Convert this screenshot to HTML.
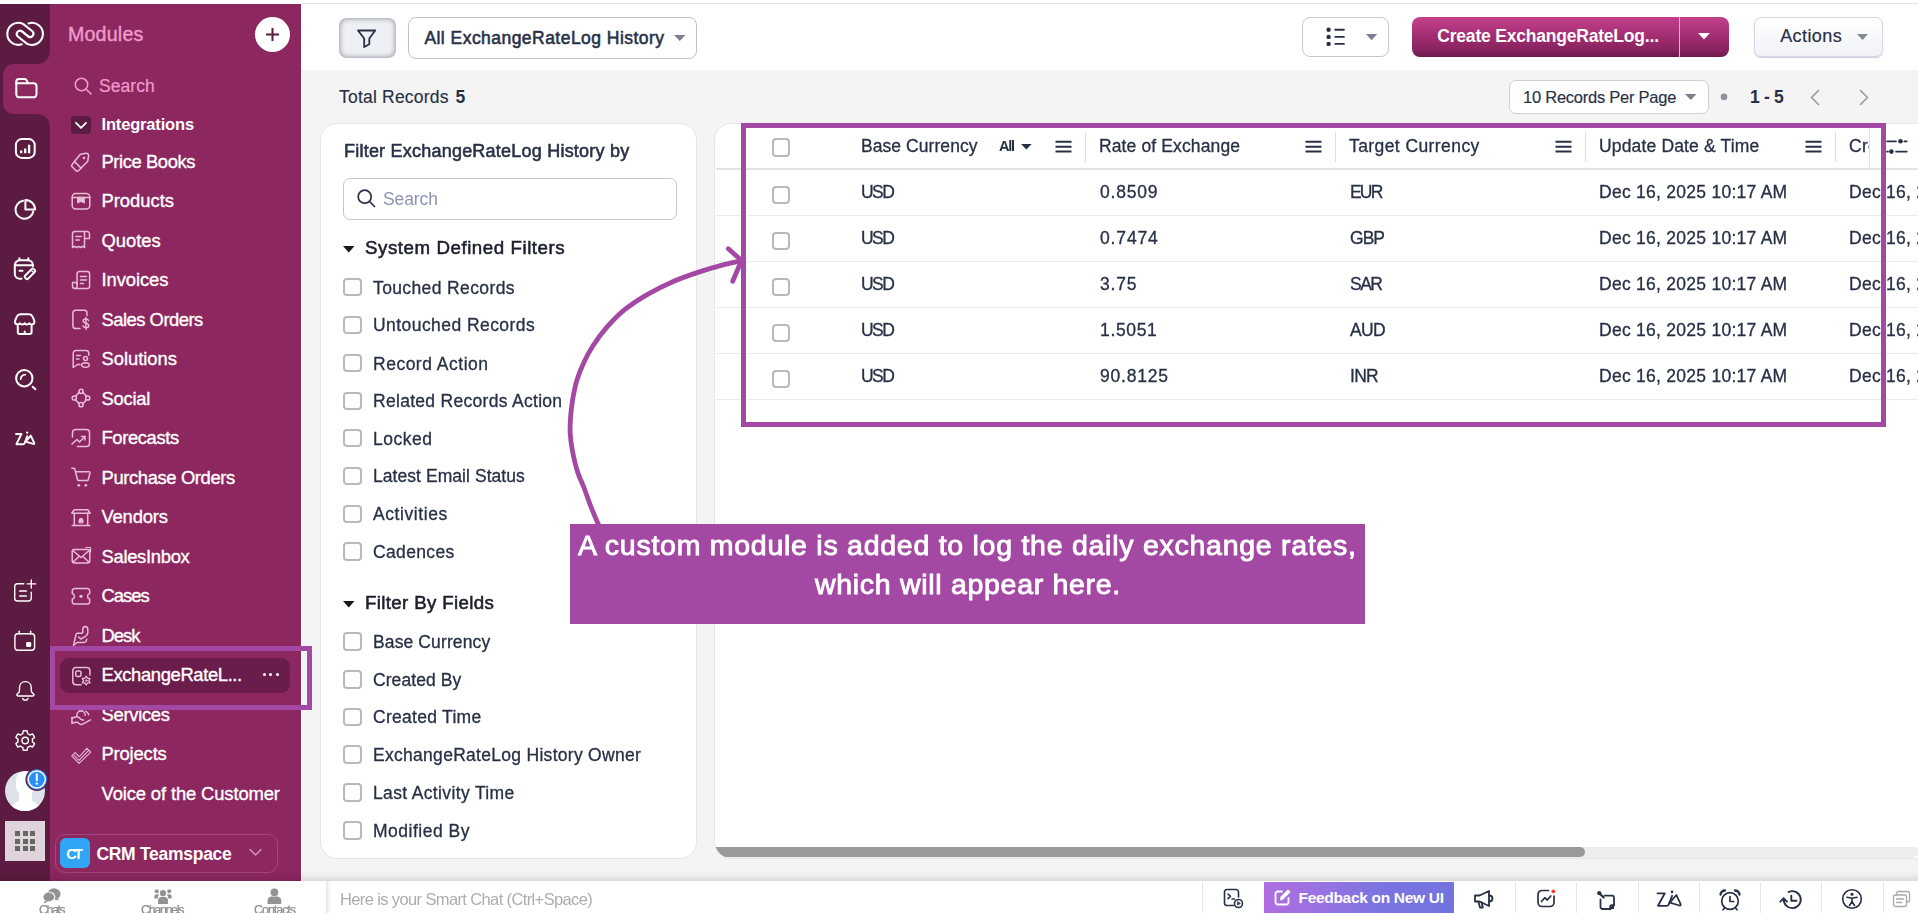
<!DOCTYPE html>
<html><head><meta charset="utf-8"><title>ExchangeRateLog History - Zoho CRM</title>
<style>
html,body{margin:0;padding:0}
html{width:1918px;height:913px;overflow:hidden}
body{width:1918px;height:913px;overflow:hidden;position:relative;background:#fff;font-family:"Liberation Sans",sans-serif;}
.b{position:absolute;box-sizing:border-box}
.t{position:absolute;white-space:nowrap;line-height:1;}
.g{will-change:transform}
svg{position:absolute;overflow:visible}
.cb{position:absolute;box-sizing:border-box;width:18.6px;height:18.6px;border:2px solid #b9b9b9;border-radius:4px;background:#fff}
#r{position:absolute;left:0;top:0;width:1918px;height:913px;overflow:hidden;contain:strict}
</style></head><body><div id="r">
<div class="b" style="left:301px;top:3px;width:1617px;height:1px;background:#e2e4e2"></div>
<div class="b" style="left:302px;top:70px;width:1616px;height:811px;background:#f4f4f4"></div>
<div class="b" style="left:0px;top:4px;width:301px;height:877px;background:#8c2760"></div>
<div class="b" style="left:0px;top:4px;width:50px;height:60px;background:#5c1b40;border-bottom-right-radius:13px"></div>
<div class="b" style="left:0px;top:64px;width:16px;height:50px;background:#5c1b40"></div>
<div class="b" style="left:0px;top:114px;width:50px;height:767px;background:#5c1b40;border-top-right-radius:13px"></div>
<div class="b" style="left:3px;top:64px;width:47px;height:50px;background:#8c2760;border-radius:11px 0 0 11px"></div>
<!--RAILICONS-->
<svg style="left:0;top:0" width="50" height="881" viewBox="0 0 50 881" fill="none" stroke="#fff" stroke-linecap="round" stroke-linejoin="round"><g stroke-width="2.1"><path d="M21.7 44.3A11 11 0 1 1 23.4 24.1L32.4 31.2a3.4 3.4 0 0 1-4.2 5.3L21.9 31.5"/><path d="M28.5 23.4A11 11 0 1 1 26.8 43.6L17.8 36.5a3.4 3.4 0 0 1 4.2-5.3L28.3 36.2"/></g><g stroke-width="2"><path d="M16.3 81.7a2.6 2.6 0 0 1 2.6-2.6h5.7c1 0 1.7.5 2.1 1.4l1.2 2.7h5.6a3 3 0 0 1 3 3v8.1a3 3 0 0 1-3 3H19.3a3 3 0 0 1-3-3z"/><path d="M16.3 83.2H28"/></g><g stroke-width="2"><rect x="15.9" y="139.1" width="18.8" height="18.8" rx="6"/><path d="M21.2 153.2v-2.6M25.2 153.2v-4.7M29.1 153.2v-8.4" stroke-width="2.3" stroke-linecap="butt"/></g><g stroke-width="2"><path d="M23 200.8A9 9 0 1 0 33.3 211.5"/><path d="M25.4 199.9v9.7h9.7a9.7 9.7 0 0 0-9.7-9.7z"/></g><g stroke-width="2"><path d="M21.5 278.7h-1.7a5 5 0 0 1-5-5v-8.4a5 5 0 0 1 5-5h8.1a5 5 0 0 1 5 5v1"/><path d="M19.4 258.2v2M28.3 258.2v2M14.8 265.3h18.1M19.5 270.7h3"/><path d="M26.2 278.8l-1.2-1.2a1.3 1.3 0 0 1 0-1.8l6.9-6.9a1.3 1.3 0 0 1 1.8 0l1.2 1.2a1.3 1.3 0 0 1 0 1.8l-6.9 6.9a1.3 1.3 0 0 1-1.8 0z"/><path d="M31.5 270.5l1.8 1.8" stroke-width="1.3"/></g><g stroke-width="2"><path d="M17.8 326v5.9a2 2 0 0 0 2 2h9.8a2 2 0 0 0 2-2V326"/><path d="M24.7 333.8v-2.4"/><path d="M15 321.8c0-1 .3-1.7.7-2.6l1.3-2.8c.6-1.4 1.6-2.2 3.1-2.2h9.2c1.5 0 2.5.8 3.1 2.2l1.3 2.8c.4.9.7 1.6.7 2.6 0 1.5-1.2 2.7-2.7 2.7-1 0-1.8-.5-2.3-1.3-.5.8-1.4 1.3-2.4 1.3s-1.9-.5-2.3-1.3c-.5.8-1.4 1.3-2.4 1.3s-1.9-.5-2.4-1.3c-.5.8-1.3 1.3-2.3 1.3-1.5 0-2.6-1.2-2.6-2.7z"/></g><g stroke-width="2"><circle cx="24.3" cy="378.2" r="8.2"/><path d="M32.7 386.7l2.7 2.6"/><path d="M20.7 379a5 5 0 0 1 4.6-4.4" stroke-width="1.8"/></g><g stroke-width="1.9"><path d="M16 434h5.4l-5 10.2h6.7c.8 0 1.2-.4 1.5-1.1l2.7-6.9"/><path d="M27.2 432.5v.2" stroke-width="2.2"/><path d="M25.6 441.6l5.2-6 3.4 7.3c.3.7-.2 1.2-.9 1l-7.7-2.3z"/></g><g stroke-width="1.4"><path d="M23.8 583.7h-6.3a2.8 2.8 0 0 0-2.8 2.8v11.7a2.8 2.8 0 0 0 2.8 2.8h11a2.8 2.8 0 0 0 2.8-2.8v-6.1"/><path d="M19.7 591h6.6M19.7 596h6.6" stroke-width="1.5"/><path d="M31.3 579.9v8.1M27.2 583.9h8.5"/></g><g stroke-width="1.4"><rect x="14.9" y="633.7" width="19.7" height="16.6" rx="3"/><path d="M19.2 631.2v2.6M30.7 631.2v2.6" stroke-width="1.6"/><rect x="26.1" y="642.1" width="5.1" height="4.8" rx="1.2" fill="#fff" stroke="none"/></g><g stroke-width="1.4"><path d="M25.4 681.6c-3.6 0-5.9 2.7-5.9 6.1v2.8c0 1.3-.7 2.2-1.7 3l-.5.4c-1 .9-.5 2.1.8 2.1h14.6c1.3 0 1.8-1.2.8-2.1l-.5-.4c-1-.8-1.7-1.7-1.7-3v-2.8c0-3.4-2.3-6.1-5.9-6.1z"/><path d="M22.7 698.4a2.8 2.8 0 0 0 5.3 0"/></g><g stroke-width="1.4"><path d="M23.16 730.91A9.8 9.8 0 0 1 27.24 730.91L27.58 733.6A7.3 7.3 0 0 1 29.99 734.99L32.48 733.94A9.8 9.8 0 0 1 34.52 737.47L32.37 739.11A7.3 7.3 0 0 1 32.37 741.89L34.52 743.53A9.8 9.8 0 0 1 32.48 747.06L29.99 746.01A7.3 7.3 0 0 1 27.58 747.4L27.24 750.09A9.8 9.8 0 0 1 23.16 750.09L22.82 747.4A7.3 7.3 0 0 1 20.41 746.01L17.92 747.06A9.8 9.8 0 0 1 15.88 743.53L18.03 741.89A7.3 7.3 0 0 1 18.03 739.11L15.88 737.47A9.8 9.8 0 0 1 17.92 733.94L20.41 734.99A7.3 7.3 0 0 1 22.82 733.6Z"/><circle cx="25.2" cy="740.5" r="3.2"/></g></svg>
<div class="b" style="left:5px;top:770.5px;width:40.4px;height:40.4px;border-radius:50%;background:#dde1ea;overflow:hidden"><div class="b" style="left:10.5px;top:0px;width:19px;height:25px;border-radius:9.5px;background:#fff"></div><div class="b" style="left:14px;top:18px;width:13px;height:14px;background:#fff"></div><div class="b" style="left:3px;top:29.5px;width:35px;height:26px;border-radius:17px 17px 0 0;background:#fff"></div></div>
<svg style="left:24px;top:767px" width="26" height="26" viewBox="0 0 26 26"><circle cx="12.8" cy="12.5" r="11.4" fill="#5c1b40"/><circle cx="12.8" cy="12.5" r="10.2" fill="#2b90f5"/><circle cx="12.8" cy="12.5" r="8.5" fill="none" stroke="#fff" stroke-width="1.4"/><path d="M12.8 7.2v6" stroke="#fff" stroke-width="2" stroke-linecap="round"/><circle cx="12.8" cy="16.6" r="1.2" fill="#fff"/></svg>
<div class="b" style="left:5px;top:821px;width:40px;height:40px;background:#e0d4dc"></div><div class="b" style="left:15px;top:831px;width:5px;height:5px;background:#676767"></div><div class="b" style="left:22.6px;top:831px;width:5px;height:5px;background:#676767"></div><div class="b" style="left:30.2px;top:831px;width:5px;height:5px;background:#676767"></div><div class="b" style="left:15px;top:838.6px;width:5px;height:5px;background:#676767"></div><div class="b" style="left:22.6px;top:838.6px;width:5px;height:5px;background:#676767"></div><div class="b" style="left:30.2px;top:838.6px;width:5px;height:5px;background:#676767"></div><div class="b" style="left:15px;top:846.2px;width:5px;height:5px;background:#676767"></div><div class="b" style="left:22.6px;top:846.2px;width:5px;height:5px;background:#676767"></div><div class="b" style="left:30.2px;top:846.2px;width:5px;height:5px;background:#676767"></div>
<div class="t" style="left:68px;top:25px;font-size:19.6px;letter-spacing:0.202px;color:#ef9acb;-webkit-text-stroke:0.4px #ef9acb;">Modules</div>
<div class="b" style="left:255px;top:17px;width:35px;height:35px;background:#fff;border-radius:50%"></div>
<svg style="left:265px;top:27px" width="15" height="15" viewBox="0 0 15 15"><path d="M7.5 1v13M1 7.5h13" stroke="#5c1b40" stroke-width="2" fill="none"/></svg>
<svg style="left:74px;top:77px" width="18" height="18" viewBox="0 0 18 18"><circle cx="7.5" cy="7.5" r="6.2" stroke="#ef9acb" stroke-width="1.6" fill="none"/><path d="M12 12l5 5" stroke="#ef9acb" stroke-width="1.6" stroke-linecap="round"/></svg>
<div class="t" style="left:99px;top:78px;font-size:17.5px;letter-spacing:0.052px;color:#ef9acb;-webkit-text-stroke:0.2px #ef9acb;">Search</div>
<div class="b" style="left:71px;top:116px;width:20px;height:18px;background:#5c1b40;border-radius:4px"></div>
<svg style="left:75px;top:120.5px" width="12" height="9" viewBox="0 0 12 9"><path d="M1 1.8l5 5 5-5" stroke="#fff" stroke-width="1.8" fill="none" stroke-linecap="round" stroke-linejoin="round"/></svg>
<div class="t" style="left:101.5px;top:116px;font-size:16.5px;font-weight:700;letter-spacing:-0.166px;color:#fff;">Integrations</div>
<div class="b" style="left:60px;top:658px;width:230px;height:35px;background:#6a1d4a;border-radius:9px"></div>
<div class="t" style="left:101.5px;top:153px;font-size:18.4px;letter-spacing:-0.416px;color:#fff;-webkit-text-stroke:0.35px #fff;">Price Books</div>
<svg style="left:71px;top:151.5px" width="20" height="20" viewBox="0 0 20 20" fill="none" stroke="#e9bcd6" stroke-width="1.5" stroke-linecap="round" stroke-linejoin="round"><path d="M9.3 2.2l5.7-1c1.5-.2 2.8 1.1 2.6 2.6l-1 5.7-9 9c-.8.8-2 .8-2.8 0L1.3 15c-.8-.8-.8-2 0-2.8z"/><path d="M3.8 9.9l6.4 6.4"/><circle cx="13" cy="6" r="1.3" fill="#e9bcd6" stroke="none"/></svg>
<div class="t" style="left:101.5px;top:192px;font-size:18.4px;letter-spacing:-0.015px;color:#fff;-webkit-text-stroke:0.35px #fff;">Products</div>
<svg style="left:71px;top:190.99px" width="20" height="20" viewBox="0 0 20 20" fill="none" stroke="#e9bcd6" stroke-width="1.5" stroke-linecap="round" stroke-linejoin="round"><rect x="1.2" y="2.5" width="17.6" height="15.5" rx="3.5"/><path d="M1.2 6.5h17.6"/><path d="M6.8 6.5v5.2l3.2-1.6 3.2 1.6V6.5z" fill="#e9bcd6"/></svg>
<div class="t" style="left:101.5px;top:232px;font-size:18.4px;letter-spacing:-0.044px;color:#fff;-webkit-text-stroke:0.35px #fff;">Quotes</div>
<svg style="left:71px;top:230.48000000000002px" width="20" height="20" viewBox="0 0 20 20" fill="none" stroke="#e9bcd6" stroke-width="1.5" stroke-linecap="round" stroke-linejoin="round"><path d="M1.5 17.5V3.8A2.3 2.3 0 0 1 3.8 1.5h9.7v16l-2-1.2-2 1.2-2-1.2-2 1.2-2-1.2z"/><path d="M13.5 1.5h2.7a2.3 2.3 0 0 1 2.3 2.3v4.7h-5"/><path d="M4.8 6.5h5.5M4.8 10h3.5"/></svg>
<div class="t" style="left:101.5px;top:271px;font-size:18.4px;letter-spacing:-0.07px;color:#fff;-webkit-text-stroke:0.35px #fff;">Invoices</div>
<svg style="left:71px;top:269.97px" width="20" height="20" viewBox="0 0 20 20" fill="none" stroke="#e9bcd6" stroke-width="1.5" stroke-linecap="round" stroke-linejoin="round"><path d="M6 14.5V3.8A2.3 2.3 0 0 1 8.3 1.5h8a2.3 2.3 0 0 1 2.3 2.3v12.4a2.3 2.3 0 0 1-2.3 2.3H4"/><path d="M4 18.5a2.5 2.5 0 0 1-2.5-2.5v-3.5H6V16a2 2 0 0 1-2 2.5z"/><path d="M9.5 6.5h6M9.5 10h6M9.5 13.5h3"/></svg>
<div class="t" style="left:101.5px;top:311px;font-size:18.4px;letter-spacing:-0.506px;color:#fff;-webkit-text-stroke:0.35px #fff;">Sales Orders</div>
<svg style="left:71px;top:309.46000000000004px" width="20" height="20" viewBox="0 0 20 20" fill="none" stroke="#e9bcd6" stroke-width="1.5" stroke-linecap="round" stroke-linejoin="round"><path d="M9 19.6H4.8a2.9 2.9 0 0 1-2.9-2.9V4.1A2.9 2.9 0 0 1 4.8 1.2h8.3A2.9 2.9 0 0 1 16 4.1v2.4"/><path d="M17.6 11.6c-.3-1-1.3-1.6-2.7-1.6-1.6 0-2.7.8-2.7 2.1 0 2.9 5.6 1.3 5.6 4.3 0 1.3-1.2 2.2-2.9 2.2-1.5 0-2.6-.7-2.9-1.8M14.9 8.5v12" stroke-width="1.4"/></svg>
<div class="t" style="left:101.5px;top:350px;font-size:18.4px;letter-spacing:-0.025px;color:#fff;-webkit-text-stroke:0.35px #fff;">Solutions</div>
<svg style="left:71px;top:348.95000000000005px" width="20" height="20" viewBox="0 0 20 20" fill="none" stroke="#e9bcd6" stroke-width="1.5" stroke-linecap="round" stroke-linejoin="round"><path d="M9 15.5H6.5l-4.3 3V4.3A2.8 2.8 0 0 1 5 1.5h10a2.8 2.8 0 0 1 2.8 2.8v2"/><path d="M5.5 6.5h4M5.5 10h2.5"/><circle cx="14.5" cy="9.5" r="2"/><ellipse cx="14.5" cy="16" rx="3.8" ry="2.3"/></svg>
<div class="t" style="left:101.5px;top:390px;font-size:18.4px;letter-spacing:-0.264px;color:#fff;-webkit-text-stroke:0.35px #fff;">Social</div>
<svg style="left:71px;top:388.44px" width="20" height="20" viewBox="0 0 20 20" fill="none" stroke="#e9bcd6" stroke-width="1.5" stroke-linecap="round" stroke-linejoin="round"><circle cx="10" cy="3.3" r="2.1"/><circle cx="10" cy="16.7" r="2.1"/><circle cx="3.3" cy="10" r="2.1"/><circle cx="16.7" cy="10" r="2.1"/><path d="M8.2 4.4L4.4 8.2M11.8 4.4l3.8 3.8M4.4 11.8l3.8 3.8M15.6 11.8l-3.8 3.8"/></svg>
<div class="t" style="left:101.5px;top:429px;font-size:18.4px;letter-spacing:-0.384px;color:#fff;-webkit-text-stroke:0.35px #fff;">Forecasts</div>
<svg style="left:71px;top:427.93px" width="20" height="20" viewBox="0 0 20 20" fill="none" stroke="#e9bcd6" stroke-width="1.5" stroke-linecap="round" stroke-linejoin="round"><path d="M1.5 9V4.5a3 3 0 0 1 3-3h11a3 3 0 0 1 3 3v11a3 3 0 0 1-3 3h-9"/><path d="M1 16l5-4.5 2.5 2.5 5.5-5.5"/><path d="M10.5 8.5H14V12"/></svg>
<div class="t" style="left:101.5px;top:469px;font-size:18.4px;letter-spacing:-0.378px;color:#fff;-webkit-text-stroke:0.35px #fff;">Purchase Orders</div>
<svg style="left:71px;top:467.42px" width="20" height="20" viewBox="0 0 20 20" fill="none" stroke="#e9bcd6" stroke-width="1.5" stroke-linecap="round" stroke-linejoin="round"><path d="M.8 1.2h1.8c.6 0 1 .4 1.2.9l2.7 10.4c.1.5.6.9 1.1.900h8.6c.5 0 1-.4 1.1-.9l1.7-6.5c.2-.7-.3-1.3-1-1.3H4.8"/><circle cx="7.8" cy="18.3" r="1.4" fill="#e9bcd6" stroke="none"/><circle cx="14.8" cy="18.3" r="1.4" fill="#e9bcd6" stroke="none"/></svg>
<div class="t" style="left:101.5px;top:508px;font-size:18.4px;letter-spacing:-0.185px;color:#fff;-webkit-text-stroke:0.35px #fff;">Vendors</div>
<svg style="left:71px;top:506.9100000000001px" width="20" height="20" viewBox="0 0 20 20" fill="none" stroke="#e9bcd6" stroke-width="1.5" stroke-linecap="round" stroke-linejoin="round"><path d="M3.3 6.5v12M16.7 6.5v12M1.2 18.6h17.6"/><path d="M.8 6.3L3.3 2.7H16.7L19.2 6.3z"/><path d="M8 15.5v-2.2a2 2 0 0 1 4 0v2.2z" fill="#e9bcd6" stroke-width="1"/></svg>
<div class="t" style="left:101.5px;top:548px;font-size:18.4px;letter-spacing:-0.305px;color:#fff;-webkit-text-stroke:0.35px #fff;">SalesInbox</div>
<svg style="left:71px;top:546.4000000000001px" width="20" height="20" viewBox="0 0 20 20" fill="none" stroke="#e9bcd6" stroke-width="1.5" stroke-linecap="round" stroke-linejoin="round"><rect x="1.2" y="3.5" width="17.6" height="13.5" rx="2.2"/><path d="M1.8 4.5l8.2 7 8.2-7M1.8 16.3l6-5.6M18.2 16.3l-6-5.6"/><path d="M15 1.5h4.5V6" stroke-width="1.2"/></svg>
<div class="t" style="left:101.5px;top:587px;font-size:18.4px;letter-spacing:-0.986px;color:#fff;-webkit-text-stroke:0.35px #fff;">Cases</div>
<svg style="left:71px;top:585.8900000000001px" width="20" height="20" viewBox="0 0 20 20" fill="none" stroke="#e9bcd6" stroke-width="1.5" stroke-linecap="round" stroke-linejoin="round"><path d="M1.3 4.8A2.3 2.3 0 0 1 3.6 2.5h12.8a2.3 2.3 0 0 1 2.3 2.3v2.7a2.9 2.9 0 0 0 0 5.6v2.7a2.3 2.3 0 0 1-2.3 2.3H3.6a2.3 2.3 0 0 1-2.3-2.3v-2.7a2.9 2.9 0 0 0 0-5.6z"/><circle cx="10" cy="10.3" r="1.6" fill="#e9bcd6" stroke="none"/></svg>
<div class="t" style="left:101.5px;top:627px;font-size:18.4px;letter-spacing:-0.984px;color:#fff;-webkit-text-stroke:0.35px #fff;">Desk</div>
<svg style="left:71px;top:625.38px" width="20" height="20" viewBox="0 0 20 20" fill="none" stroke="#e9bcd6" stroke-width="1.5" stroke-linecap="round" stroke-linejoin="round"><path d="M2.6 20.2L5 9.4Q5.2 8.2 6.4 8.2H10.8Q11.8 8.2 11.8 7.1V4.1Q12 1.6 14.3 1.6 16.8 1.8 16.8 4.4V7.6Q16.7 10.1 14.5 11.4L9.8 14 7.6 12"/><path d="M15.7 14.2Q15.4 17.5 12.2 17.5H6.2L2.6 20.2"/></svg>
<div class="t" style="left:101.5px;top:666px;font-size:18.4px;letter-spacing:-0.365px;color:#fff;-webkit-text-stroke:0.35px #fff;">ExchangeRateL...</div>
<svg style="left:71px;top:664.87px" width="20" height="20" viewBox="0 0 20 20" fill="none" stroke="#e9bcd6" stroke-width="1.5" stroke-linecap="round" stroke-linejoin="round"><path d="M10.1 19.7H5a3.2 3.2 0 0 1-3.2-3.2V5.6a3.2 3.2 0 0 1 3.2-3.2h10.7a3.2 3.2 0 0 1 3.2 3.2V10"/><rect x="4.7" y="6.1" width="5.3" height="5.3" rx="1.8"/><path d="M15.2 11.2L16.55 13.26L19.01 13.4L17.9 15.6L19.01 17.8L16.55 17.94L15.2 20L13.85 17.94L11.39 17.8L12.5 15.6L11.39 13.4L13.85 13.26Z" stroke-width="1.3"/><circle cx="15.2" cy="15.6" r=".9" stroke-width="1"/></svg>
<div class="t" style="left:101.5px;top:706px;font-size:18.4px;letter-spacing:-0.295px;color:#fff;-webkit-text-stroke:0.35px #fff;">Services</div>
<svg style="left:71px;top:704.36px" width="20" height="20" viewBox="0 0 20 20" fill="none" stroke="#e9bcd6" stroke-width="1.5" stroke-linecap="round" stroke-linejoin="round"><path d="M1 13.9L5.5 12.8Q7 12.6 8 13.5L10 15.4Q10.8 16 12 16H12.6"/><path d="M1 19L5.5 18.3Q6.5 18.2 7.5 19L9 20.2Q10 20.8 11.2 20.3L19.5 15.8"/><path d="M1 13.5V19.4"/><path d="M5.8 11.3A4.2 4.2 0 0 1 14.2 11.3"/><path d="M8.8 6h2.4"/><path d="M14.8 7.4A5 5 0 0 1 17.8 11.5" stroke-dasharray="1.6 1.3"/></svg>
<div class="t" style="left:101.5px;top:745px;font-size:18.4px;letter-spacing:-0.166px;color:#fff;-webkit-text-stroke:0.35px #fff;">Projects</div>
<svg style="left:71px;top:743.85px" width="20" height="20" viewBox="0 0 20 20" fill="none" stroke="#e9bcd6" stroke-width="1.5" stroke-linecap="round" stroke-linejoin="round"><path d="M.7 11.85L4.2 8.55 8.3 12.75 15.8 4.45 19.8 8.15 8 19.35Z" stroke-width="1.1"/><path d="M3 11.45L8 16.45 17.8 6.45" stroke-width="1.1"/></svg>
<div class="t" style="left:101.5px;top:785px;font-size:18.4px;letter-spacing:-0.126px;color:#fff;-webkit-text-stroke:0.35px #fff;">Voice of the Customer</div>
<div class="b" style="left:262.6px;top:673.2px;width:3.3px;height:3.3px;background:#fff;border-radius:50%"></div>
<div class="b" style="left:269.1px;top:673.2px;width:3.3px;height:3.3px;background:#fff;border-radius:50%"></div>
<div class="b" style="left:275.6px;top:673.2px;width:3.3px;height:3.3px;background:#fff;border-radius:50%"></div>
<div class="b" style="left:55px;top:834px;width:223px;height:39px;border:1px solid #a1457a;border-radius:10px"></div>
<div class="b" style="left:60px;top:838px;width:30px;height:30px;background:#30a5f5;border-radius:6px"></div>
<div class="t" style="left:66.3px;top:847px;font-size:14.5px;font-weight:700;letter-spacing:-2.828px;color:#fff;">CT</div>
<div class="t" style="left:96.4px;top:846px;font-size:17.5px;font-weight:700;letter-spacing:-0.28px;color:#fff;">CRM Teamspace</div>
<svg style="left:249px;top:848px" width="13" height="9" viewBox="0 0 13 9"><path d="M1 1.5l5.5 5.5L12 1.5" stroke="#d58bb6" stroke-width="1.6" fill="none" stroke-linecap="round" stroke-linejoin="round"/></svg>
<!--MAIN-->
<div class="b" style="left:339px;top:18px;width:57px;height:40px;background:#eef0f5;border-radius:8px;box-shadow:inset 0 0 5px 1px rgba(88,92,108,.55)"></div>
<svg style="left:356px;top:29px" width="21" height="20" viewBox="0 0 21 20" fill="none" stroke="#283046" stroke-width="1.8" stroke-linejoin="round"><path d="M2 1.5H19.2L13.3 9.5V15.2L8.2 18V9.5Z"/></svg>
<div class="b" style="left:408px;top:17px;width:289px;height:42px;background:#fff;border:1px solid #c0c2ca;border-radius:8px"></div>
<div class="t" style="left:424.4px;top:30px;font-size:17.5px;letter-spacing:0.461px;color:#283046;-webkit-text-stroke:0.55px #283046;">All ExchangeRateLog History</div>
<svg style="left:674px;top:35px" width="11.5" height="6" viewBox="0 0 11.5 6"><path d="M0 0h11.5l-5.75 6z" fill="#7b7f8e"/></svg>
<div class="b" style="left:1302px;top:17px;width:87px;height:40px;background:#fff;border:1px solid #c9c9cc;border-radius:8px"></div>
<svg style="left:1325px;top:27px" width="21" height="20" viewBox="0 0 21 20" fill="none" stroke="#283046" stroke-width="1.9" stroke-linecap="round"><path d="M10.3 2.8h8.6M10.3 9.9h8.6M10.3 16.9h8.6"/><circle cx="3.6" cy="2.8" r="2.2" fill="#283046" stroke="none"/><circle cx="3.6" cy="9.9" r="2.2" fill="#283046" stroke="none"/><circle cx="3.6" cy="16.9" r="2.2" fill="#283046" stroke="none"/></svg>
<svg style="left:1366px;top:34px" width="11.2" height="6.2" viewBox="0 0 11.2 6.2"><path d="M0 0h11.2l-5.6 6.2z" fill="#7c8090"/></svg>
<div class="b" style="left:1412px;top:17px;width:317px;height:40px;background:linear-gradient(#c4408e 0%,#a83076 40%,#86225d 85%,#6c1a49 100%);border-radius:8px"></div>
<div class="b" style="left:1678.5px;top:17px;width:1.5px;height:40px;background:#e9b3d1"></div>
<div class="t" style="left:1437.3px;top:28px;font-size:17.5px;font-weight:700;letter-spacing:-0.204px;color:#fff;">Create ExchangeRateLog...</div>
<svg style="left:1698px;top:33px" width="12" height="6.5" viewBox="0 0 12 6.5"><path d="M0 0h12l-6 6.5z" fill="#fff"/></svg>
<div class="b" style="left:1754px;top:17px;width:129px;height:40px;background:linear-gradient(#fff,#f1f2f7);border:1px solid #d3d6e2;border-radius:7px;box-shadow:0 1px 1px rgba(150,155,190,.5)"></div>
<div class="t" style="left:1780.2px;top:27px;font-size:18px;letter-spacing:0.413px;color:#283046;-webkit-text-stroke:0.2px #283046;">Actions</div>
<svg style="left:1856.5px;top:33.5px" width="11" height="6" viewBox="0 0 11 6"><path d="M0 0h11l-5.5 6z" fill="#868a96"/></svg>
<div class="t" style="left:339px;top:89px;font-size:17.5px;letter-spacing:0.209px;color:#283046;-webkit-text-stroke:0.15px #283046;">Total Records</div>
<div class="t" style="left:455.5px;top:89px;font-size:17.5px;font-weight:700;color:#283046;">5</div>
<div class="b" style="left:1509px;top:80px;width:200px;height:34px;background:#fff;border:1px solid #cfd0d6;border-radius:7px"></div>
<div class="t" style="left:1523px;top:89px;font-size:16.5px;letter-spacing:-0.242px;color:#283046;-webkit-text-stroke:0.15px #283046;">10 Records Per Page</div>
<svg style="left:1685px;top:94px" width="11.5" height="6" viewBox="0 0 11.5 6"><path d="M0 0h11.5l-5.75 6z" fill="#7b7f8e"/></svg>
<svg style="left:1719px;top:92px" width="10" height="10" viewBox="0 0 10 10"><circle cx="5" cy="4.9" r="3.3" fill="#8f919c"/></svg>
<div class="t" style="left:1750px;top:89px;font-size:17.5px;font-weight:700;letter-spacing:-0.304px;color:#283046;">1 - 5</div>
<svg style="left:1809.5px;top:89px" width="10" height="17" viewBox="0 0 10 17" fill="none" stroke="#9b9b9b" stroke-width="1.6" stroke-linecap="round" stroke-linejoin="round"><path d="M8.5 1.5L1.5 8.5l7 7"/></svg>
<svg style="left:1859px;top:89px" width="10" height="17" viewBox="0 0 10 17" fill="none" stroke="#9b9b9b" stroke-width="1.6" stroke-linecap="round" stroke-linejoin="round"><path d="M1.5 1.5l7 7-7 7"/></svg>
<div class="b" style="left:320px;top:123px;width:377px;height:735.5px;background:#fff;border:1px solid #e6e6e6;border-radius:17px"></div>
<div class="t g" style="left:344px;top:142px;font-size:18px;letter-spacing:0.221px;color:#283046;-webkit-text-stroke:0.55px #283046;">Filter ExchangeRateLog History by</div>
<div class="b" style="left:343px;top:178px;width:334px;height:42px;background:#fff;border:1px solid #c6c6c6;border-radius:7px"></div>
<svg style="left:357px;top:189.4px" width="19" height="18" viewBox="0 0 19 18" fill="none" stroke="#283046" stroke-width="1.7" stroke-linecap="round"><circle cx="7.7" cy="7.7" r="6.5"/><path d="M12.5 12.5l5 5"/></svg>
<div class="t g" style="left:382.7px;top:191px;font-size:17.5px;letter-spacing:-0.088px;color:#8d94b3;">Search</div>
<svg style="left:342.5px;top:245.5px" width="11.5" height="6.5" viewBox="0 0 11.5 6.5"><path d="M0 0h11.5l-5.75 6.5z" fill="#15181f"/></svg>
<div class="t g" style="left:365px;top:239px;font-size:18.7px;letter-spacing:0.557px;color:#1b1e2b;-webkit-text-stroke:0.55px #1b1e2b;">System Defined Filters</div>
<div class="cb" style="left:343.2px;top:277.8px"></div>
<div class="t g" style="left:372.5px;top:280px;font-size:17.5px;letter-spacing:0.38px;color:#283046;-webkit-text-stroke:0.3px #283046;">Touched Records</div>
<div class="cb" style="left:343.2px;top:315.6px"></div>
<div class="t g" style="left:372.5px;top:317px;font-size:17.5px;letter-spacing:0.44px;color:#283046;-webkit-text-stroke:0.3px #283046;">Untouched Records</div>
<div class="cb" style="left:343.2px;top:353.8px"></div>
<div class="t g" style="left:372.5px;top:356px;font-size:17.5px;letter-spacing:0.504px;color:#283046;-webkit-text-stroke:0.3px #283046;">Record Action</div>
<div class="cb" style="left:343.2px;top:391.5px"></div>
<div class="t g" style="left:372.5px;top:393px;font-size:17.5px;letter-spacing:0.296px;color:#283046;-webkit-text-stroke:0.3px #283046;">Related Records Action</div>
<div class="cb" style="left:343.2px;top:428.8px"></div>
<div class="t g" style="left:372.5px;top:431px;font-size:17.5px;letter-spacing:0.492px;color:#283046;-webkit-text-stroke:0.3px #283046;">Locked</div>
<div class="cb" style="left:343.2px;top:466.5px"></div>
<div class="t g" style="left:372.5px;top:468px;font-size:17.5px;letter-spacing:0.058px;color:#283046;-webkit-text-stroke:0.3px #283046;">Latest Email Status</div>
<div class="cb" style="left:343.2px;top:504.59999999999997px"></div>
<div class="t g" style="left:372.5px;top:506px;font-size:17.5px;letter-spacing:0.574px;color:#283046;-webkit-text-stroke:0.3px #283046;">Activities</div>
<div class="cb" style="left:343.2px;top:542.4px"></div>
<div class="t g" style="left:372.5px;top:544px;font-size:17.5px;letter-spacing:0.357px;color:#283046;-webkit-text-stroke:0.3px #283046;">Cadences</div>
<svg style="left:342.5px;top:601px" width="11.5" height="6.5" viewBox="0 0 11.5 6.5"><path d="M0 0h11.5l-5.75 6.5z" fill="#15181f"/></svg>
<div class="t g" style="left:365px;top:594px;font-size:18.7px;letter-spacing:0.357px;color:#1b1e2b;-webkit-text-stroke:0.55px #1b1e2b;">Filter By Fields</div>
<div class="cb" style="left:343.2px;top:632.1999999999999px"></div>
<div class="t g" style="left:372.5px;top:634px;font-size:17.5px;letter-spacing:0.121px;color:#283046;-webkit-text-stroke:0.3px #283046;">Base Currency</div>
<div class="cb" style="left:343.2px;top:670.0999999999999px"></div>
<div class="t g" style="left:372.5px;top:672px;font-size:17.5px;letter-spacing:0.074px;color:#283046;-webkit-text-stroke:0.3px #283046;">Created By</div>
<div class="cb" style="left:343.2px;top:707.5999999999999px"></div>
<div class="t g" style="left:372.5px;top:709px;font-size:17.5px;letter-spacing:0.288px;color:#283046;-webkit-text-stroke:0.3px #283046;">Created Time</div>
<div class="cb" style="left:343.2px;top:745.4px"></div>
<div class="t g" style="left:372.5px;top:747px;font-size:17.5px;letter-spacing:0.289px;color:#283046;-webkit-text-stroke:0.3px #283046;">ExchangeRateLog History Owner</div>
<div class="cb" style="left:343.2px;top:783.1999999999999px"></div>
<div class="t g" style="left:372.5px;top:785px;font-size:17.5px;letter-spacing:0.354px;color:#283046;-webkit-text-stroke:0.3px #283046;">Last Activity Time</div>
<div class="cb" style="left:343.2px;top:821px"></div>
<div class="t g" style="left:372.5px;top:823px;font-size:17.5px;letter-spacing:0.506px;color:#283046;-webkit-text-stroke:0.3px #283046;">Modified By</div>
<div class="b" style="left:714px;top:123px;width:1250px;height:735.5px;background:#fff;border:1px solid #e6e6e6;border-radius:17px;overflow:hidden">
<div class="b" style="left:0px;top:723px;width:1206px;height:10.5px;background:#ededed;border-radius:0 0 15px 0"></div>
<div class="b" style="left:0px;top:723px;width:870px;height:10px;background:#999;border-radius:0 6px 6px 0"></div>
</div>
<div class="b" style="left:715.5px;top:168px;width:1203px;height:2px;background:#e3e3e3"></div>
<div class="b" style="left:715.5px;top:215px;width:1203px;height:1px;background:#ebebeb"></div>
<div class="b" style="left:715.5px;top:261px;width:1203px;height:1px;background:#ebebeb"></div>
<div class="b" style="left:715.5px;top:307px;width:1203px;height:1px;background:#ebebeb"></div>
<div class="b" style="left:715.5px;top:353px;width:1203px;height:1px;background:#ebebeb"></div>
<div class="b" style="left:715.5px;top:399px;width:1203px;height:1px;background:#ebebeb"></div>
<div class="cb" style="left:771.5px;top:138px"></div>
<div class="t g" style="left:860.5px;top:138px;font-size:17.5px;letter-spacing:0.063px;color:#283046;-webkit-text-stroke:0.3px #283046;">Base Currency</div>
<div class="t g" style="left:999px;top:139px;font-size:14.5px;font-weight:700;letter-spacing:-1.215px;color:#283046;">All</div>
<svg style="left:1020.5px;top:144px" width="10.7" height="5.5" viewBox="0 0 10.7 5.5"><path d="M0 0h10.7l-5.35 5.5z" fill="#283046"/></svg>
<svg style="left:1054.5px;top:140px" width="17" height="13" viewBox="0 0 17 13" stroke="#283046" stroke-width="2"><path d="M.5 1.8h16M.5 6.7h16M.5 11.6h16"/></svg>
<svg style="left:1304.8px;top:140px" width="17" height="13" viewBox="0 0 17 13" stroke="#283046" stroke-width="2"><path d="M.5 1.8h16M.5 6.7h16M.5 11.6h16"/></svg>
<svg style="left:1554.8px;top:140px" width="17" height="13" viewBox="0 0 17 13" stroke="#283046" stroke-width="2"><path d="M.5 1.8h16M.5 6.7h16M.5 11.6h16"/></svg>
<svg style="left:1804.8px;top:140px" width="17" height="13" viewBox="0 0 17 13" stroke="#283046" stroke-width="2"><path d="M.5 1.8h16M.5 6.7h16M.5 11.6h16"/></svg>
<div class="b" style="left:1085px;top:132px;width:1px;height:30px;background:#dcdcdc"></div>
<div class="b" style="left:1335px;top:132px;width:1px;height:30px;background:#dcdcdc"></div>
<div class="b" style="left:1585px;top:132px;width:1px;height:30px;background:#dcdcdc"></div>
<div class="b" style="left:1835px;top:132px;width:1px;height:30px;background:#dcdcdc"></div>
<div class="t g" style="left:1099.3px;top:138px;font-size:17.5px;letter-spacing:0.125px;color:#283046;-webkit-text-stroke:0.3px #283046;">Rate of Exchange</div>
<div class="t g" style="left:1349.3px;top:138px;font-size:17.5px;letter-spacing:0.415px;color:#283046;-webkit-text-stroke:0.3px #283046;">Target Currency</div>
<div class="t g" style="left:1599px;top:138px;font-size:17.5px;letter-spacing:0.155px;color:#283046;-webkit-text-stroke:0.3px #283046;">Update Date &amp; Time</div>
<div class="t g" style="left:1849.2px;top:138px;font-size:17.5px;letter-spacing:0.288px;color:#283046;-webkit-text-stroke:0.3px #283046;">Created Time</div>
<div class="b" style="left:1869px;top:125px;width:49px;height:43px;background:#fff;border-left:1px solid #e2e2e2"></div>
<svg style="left:1885.5px;top:139px" width="22" height="15" viewBox="0 0 22 15" fill="none" stroke="#283046" stroke-width="1.7" stroke-linecap="round"><path d="M1 2.3h9M18.3 2.3h2.5M1 12.6h1M10 12.6h10.8"/><circle cx="14.5" cy="2.3" r="2.3" fill="#283046" stroke="none"/><circle cx="5.4" cy="12.6" r="2.3" fill="#283046" stroke="none"/></svg>
<div class="cb" style="left:771.5px;top:185.5px"></div>
<div class="t g" style="left:861.3px;top:184px;font-size:17.5px;letter-spacing:-1.571px;color:#283046;-webkit-text-stroke:0.3px #283046;">USD</div>
<div class="t g" style="left:1099.5px;top:184px;font-size:17.5px;letter-spacing:0.794px;color:#283046;-webkit-text-stroke:0.3px #283046;">0.8509</div>
<div class="t g" style="left:1349.5px;top:184px;font-size:17.5px;letter-spacing:-1.821px;color:#283046;-webkit-text-stroke:0.3px #283046;">EUR</div>
<div class="t g" style="left:1599px;top:184px;font-size:17.5px;letter-spacing:0.264px;color:#283046;-webkit-text-stroke:0.3px #283046;">Dec 16, 2025 10:17 AM</div>
<div class="t g" style="left:1849.2px;top:184px;font-size:17.5px;letter-spacing:0.264px;color:#283046;-webkit-text-stroke:0.3px #283046;">Dec 16, 2025 10:17 AM</div>
<div class="cb" style="left:771.5px;top:231.5px"></div>
<div class="t g" style="left:861.3px;top:230px;font-size:17.5px;letter-spacing:-1.571px;color:#283046;-webkit-text-stroke:0.3px #283046;">USD</div>
<div class="t g" style="left:1099.5px;top:230px;font-size:17.5px;letter-spacing:0.853px;color:#283046;-webkit-text-stroke:0.3px #283046;">0.7474</div>
<div class="t g" style="left:1349.5px;top:230px;font-size:17.5px;letter-spacing:-0.98px;color:#283046;-webkit-text-stroke:0.3px #283046;">GBP</div>
<div class="t g" style="left:1599px;top:230px;font-size:17.5px;letter-spacing:0.264px;color:#283046;-webkit-text-stroke:0.3px #283046;">Dec 16, 2025 10:17 AM</div>
<div class="t g" style="left:1849.2px;top:230px;font-size:17.5px;letter-spacing:0.264px;color:#283046;-webkit-text-stroke:0.3px #283046;">Dec 16, 2025 10:17 AM</div>
<div class="cb" style="left:771.5px;top:277.5px"></div>
<div class="t g" style="left:861.3px;top:276px;font-size:17.5px;letter-spacing:-1.571px;color:#283046;-webkit-text-stroke:0.3px #283046;">USD</div>
<div class="t g" style="left:1099.5px;top:276px;font-size:17.5px;letter-spacing:0.815px;color:#283046;-webkit-text-stroke:0.3px #283046;">3.75</div>
<div class="t g" style="left:1349.5px;top:276px;font-size:17.5px;letter-spacing:-1.49px;color:#283046;-webkit-text-stroke:0.3px #283046;">SAR</div>
<div class="t g" style="left:1599px;top:276px;font-size:17.5px;letter-spacing:0.264px;color:#283046;-webkit-text-stroke:0.3px #283046;">Dec 16, 2025 10:17 AM</div>
<div class="t g" style="left:1849.2px;top:276px;font-size:17.5px;letter-spacing:0.264px;color:#283046;-webkit-text-stroke:0.3px #283046;">Dec 16, 2025 10:17 AM</div>
<div class="cb" style="left:771.5px;top:323.5px"></div>
<div class="t g" style="left:861.3px;top:322px;font-size:17.5px;letter-spacing:-1.571px;color:#283046;-webkit-text-stroke:0.3px #283046;">USD</div>
<div class="t g" style="left:1099.5px;top:322px;font-size:17.5px;letter-spacing:0.653px;color:#283046;-webkit-text-stroke:0.3px #283046;">1.5051</div>
<div class="t g" style="left:1349.5px;top:322px;font-size:17.5px;letter-spacing:-0.621px;color:#283046;-webkit-text-stroke:0.3px #283046;">AUD</div>
<div class="t g" style="left:1599px;top:322px;font-size:17.5px;letter-spacing:0.264px;color:#283046;-webkit-text-stroke:0.3px #283046;">Dec 16, 2025 10:17 AM</div>
<div class="t g" style="left:1849.2px;top:322px;font-size:17.5px;letter-spacing:0.264px;color:#283046;-webkit-text-stroke:0.3px #283046;">Dec 16, 2025 10:17 AM</div>
<div class="cb" style="left:771.5px;top:369.5px"></div>
<div class="t g" style="left:861.3px;top:368px;font-size:17.5px;letter-spacing:-1.571px;color:#283046;-webkit-text-stroke:0.3px #283046;">USD</div>
<div class="t g" style="left:1099.5px;top:368px;font-size:17.5px;letter-spacing:0.79px;color:#283046;-webkit-text-stroke:0.3px #283046;">90.8125</div>
<div class="t g" style="left:1349.5px;top:368px;font-size:17.5px;letter-spacing:-0.718px;color:#283046;-webkit-text-stroke:0.3px #283046;">INR</div>
<div class="t g" style="left:1599px;top:368px;font-size:17.5px;letter-spacing:0.264px;color:#283046;-webkit-text-stroke:0.3px #283046;">Dec 16, 2025 10:17 AM</div>
<div class="t g" style="left:1849.2px;top:368px;font-size:17.5px;letter-spacing:0.264px;color:#283046;-webkit-text-stroke:0.3px #283046;">Dec 16, 2025 10:17 AM</div>
<div class="b" style="left:0px;top:871px;width:1918px;height:10px;background:linear-gradient(rgba(0,0,0,0),rgba(0,0,0,.035) 50%,rgba(0,0,0,.11))"></div>
<div class="b" style="left:0px;top:881px;width:1918px;height:32px;background:#fff"></div>
<div class="b" style="left:326px;top:881px;width:6px;height:32px;background:linear-gradient(90deg,#e2e2e2,#f3f3f3 35%,#fff)"></div>
<div class="t g" style="left:339.5px;top:891px;font-size:16.5px;letter-spacing:-0.624px;color:#adadad;">Here is your Smart Chat (Ctrl+Space)</div>
<svg style="left:42px;top:888px" width="19" height="16" viewBox="0 0 19 16" fill="none" stroke="#8b8b8b" stroke-width="1.7" stroke-linecap="round" stroke-linejoin="round"><ellipse cx="12" cy="6" rx="6.6" ry="5.7" fill="#939393" stroke="none"/><path d="M15 10l2.5 2.5-5-1z" fill="#939393" stroke="none"/><ellipse cx="6.8" cy="9" rx="6" ry="5" fill="#939393" stroke="#fff" stroke-width="1.1"/><path d="M3 12.5l-1.5 3 4.5-1.8z" fill="#939393" stroke="none"/></svg>
<div class="t g" style="left:38.5px;top:904px;font-size:12.5px;letter-spacing:-1.537px;color:#8f8f8f;-webkit-text-stroke:0.25px #8f8f8f;">Chats</div>
<svg style="left:154px;top:888px" width="18" height="16" viewBox="0 0 18 16" fill="none" stroke="#8b8b8b" stroke-width="1.7" stroke-linecap="round" stroke-linejoin="round"><circle cx="9" cy="5.2" r="3.1" fill="#939393" stroke="none"/><path d="M4 16v-3.5a3.5 3.5 0 0 1 3.5-3.5h3a3.5 3.5 0 0 1 3.5 3.5V16z" fill="#939393" stroke="none"/><circle cx="2.8" cy="3.2" r="2" fill="#939393" stroke="none"/><circle cx="15.2" cy="3.2" r="2" fill="#939393" stroke="none"/><path d="M.300 10.5V8.5a2.3 2.3 0 0 1 2.3-2.3h2.4L3.5 10.5zM17.7 10.5V8.5a2.3 2.3 0 0 0-2.3-2.3h-2.4l1.5 4.3z" fill="#939393" stroke="none"/></svg>
<div class="t g" style="left:141.4px;top:904px;font-size:12.5px;letter-spacing:-1.345px;color:#8f8f8f;-webkit-text-stroke:0.25px #8f8f8f;">Channels</div>
<svg style="left:267px;top:888px" width="15" height="16" viewBox="0 0 15 16" fill="none" stroke="#8b8b8b" stroke-width="1.7" stroke-linecap="round" stroke-linejoin="round"><circle cx="7.4" cy="4.3" r="3.9" fill="#939393" stroke="none"/><path d="M.500 16v-3.3a4.2 4.2 0 0 1 4.2-4.2h5.4a4.2 4.2 0 0 1 4.2 4.2V16z" fill="#939393" stroke="none"/></svg>
<div class="t g" style="left:253.8px;top:904px;font-size:12.5px;letter-spacing:-1.046px;color:#8f8f8f;-webkit-text-stroke:0.25px #8f8f8f;">Contacts</div>
<div class="b" style="left:1202px;top:882px;width:1px;height:31px;background:#e6e6e6"></div>
<div class="b" style="left:1515px;top:882px;width:1px;height:31px;background:#e6e6e6"></div>
<div class="b" style="left:1576px;top:882px;width:1px;height:31px;background:#e6e6e6"></div>
<div class="b" style="left:1638px;top:882px;width:1px;height:31px;background:#e6e6e6"></div>
<div class="b" style="left:1699px;top:882px;width:1px;height:31px;background:#e6e6e6"></div>
<div class="b" style="left:1760px;top:882px;width:1px;height:31px;background:#e6e6e6"></div>
<div class="b" style="left:1821px;top:882px;width:1px;height:31px;background:#e6e6e6"></div>
<div class="b" style="left:1883px;top:882px;width:1px;height:31px;background:#e6e6e6"></div>
<div class="b" style="left:1264px;top:882px;width:190px;height:31px;background:linear-gradient(90deg,#b06ee0 0%,#9472e2 35%,#7a74e1 62%,#7273e0 100%)"></div>
<svg style="left:1274px;top:889px" width="18" height="17" viewBox="0 0 18 17" fill="none" stroke="#fff" stroke-width="1.8" stroke-linecap="round" stroke-linejoin="round"><path d="M8 2.5H4A2.5 2.5 0 0 0 1.5 5v8A2.5 2.5 0 0 0 4 15.5h8A2.5 2.5 0 0 0 14.5 13V9"/><path d="M6.5 10.5l.5-2.7 7-7 2.2 2.2-7 7z" fill="#fff" stroke-width="1"/></svg>
<div class="t" style="left:1298.5px;top:890px;font-size:15.5px;font-weight:700;letter-spacing:-0.308px;color:#fff;">Feedback on New UI</div>
<svg style="left:1223px;top:888px" width="21" height="21" viewBox="0 0 21 21" fill="none" stroke="#283046" stroke-width="1.6" stroke-linecap="round" stroke-linejoin="round"><path d="M11 17.5H4A2.5 2.5 0 0 1 1.5 15V4A2.5 2.5 0 0 1 4 1.5h9A2.5 2.5 0 0 1 15.5 4v5"/><path d="M5 6l2.5 2.3L5 10.6M9 11h2.5"/><circle cx="15.5" cy="15.5" r="4"/><path d="M14.5 13.8v3.4l2.7-1.7z" fill="#262d42" stroke-width=".6"/></svg>
<svg style="left:1473px;top:888px" width="24" height="21" viewBox="0 0 24 21" fill="none" stroke="#283046" stroke-width="1.8" stroke-linecap="round" stroke-linejoin="round"><path d="M2 7.5h4.5L16 3v15l-9.5-4.5H2z"/><path d="M5.5 14l1.5 5.5h2.8L8.6 14.5"/><path d="M16 7.5c2 0 3.5 1.3 3.5 3s-1.5 3-3.5 3"/></svg>
<svg style="left:1536px;top:888px" width="21" height="21" viewBox="0 0 21 21" fill="none" stroke="#283046" stroke-width="1.7" stroke-linecap="round" stroke-linejoin="round"><path d="M12.5 2.5H6A4 4 0 0 0 2 6.5v8a4 4 0 0 0 4 4h8a4 4 0 0 0 4-4V8"/><path d="M5.5 13.5l3.3-3.8 2.5 2.3 3.5-4"/><circle cx="17.3" cy="3.3" r="1.9" fill="#e8412c" stroke="none"/></svg>
<svg style="left:1596px;top:889px" width="22" height="22" viewBox="0 0 22 22" fill="none" stroke="#283046" stroke-width="1.8" stroke-linecap="round" stroke-linejoin="round"><path d="M8.5 6.7h7.5a2 2 0 0 1 2 2v7.5l-3.8 3.8H6.5a2 2 0 0 1-2-2V10.5"/><path d="M18 16.2h-2.3a1.5 1.5 0 0 0-1.5 1.5V20" /><path d="M3.6 4.5l4 4" stroke-width="2.2"/><circle cx="3.3" cy="4.2" r="2.1" fill="#283046" stroke="none"/><path d="M14.3 20l3.7-3.8v3.8z" fill="#283046" stroke="none"/></svg>
<svg style="left:1656px;top:890px" width="25" height="18" viewBox="0 0 25 18" fill="none" stroke="#283046" stroke-width="1.8" stroke-linecap="round" stroke-linejoin="round"><path d="M1.5 3.3h7.3L2 15.8h8.7c1 0 1.6-.5 2-1.4l3.4-8.6"/><path d="M16 1.8v.3" stroke-width="2.5"/><path d="M13.8 12.6l6.6-7.6 4.2 9.2c.4.9-.2 1.5-1.1 1.3l-9.7-2.9z"/></svg>
<svg style="left:1718px;top:888px" width="24" height="23" viewBox="0 0 24 23" fill="none" stroke="#283046" stroke-width="1.7" stroke-linecap="round" stroke-linejoin="round"><circle cx="12" cy="13" r="8.3"/><path d="M12 8.5v5h3.8"/><path d="M2.5 6.5a4.5 4.5 0 0 1 4.5-4M21.5 6.5a4.5 4.5 0 0 0-4.5-4" stroke-width="2.3"/><path d="M6.5 20l-1.5 1.8M17.5 20l1.5 1.8"/></svg>
<svg style="left:1779px;top:889px" width="24" height="22" viewBox="0 0 24 22" fill="none" stroke="#283046" stroke-width="1.9" stroke-linecap="round" stroke-linejoin="round"><path d="M9.5 3A8.5 8.5 0 1 1 4.8 9.8"/><path d="M12.3 6.6V11.8H17.5"/><path d="M1.3 12.6L4.7 9.3 8 12.6"/></svg>
<svg style="left:1841px;top:888px" width="22" height="22" viewBox="0 0 22 22" fill="none" stroke="#283046" stroke-width="1.6" stroke-linecap="round" stroke-linejoin="round"><circle cx="11" cy="11" r="9.3"/><circle cx="11" cy="6.3" r="1.5" fill="#262d42" stroke="none"/><path d="M6 9.3l5 1 5-1M11 10.3v3.2M11 13.5l-2.5 4M11 13.5l2.5 4"/></svg>
<svg style="left:1892px;top:890px" width="19" height="18" viewBox="0 0 19 18" fill="none" stroke="#a9a9a9" stroke-width="1.3" stroke-linecap="round" stroke-linejoin="round"><rect x="4.5" y="1.5" width="13" height="10.5" rx="2"/><rect x="1.5" y="5" width="13" height="11.5" rx="2" fill="#fff"/><path d="M4.5 9h7M4.5 12.5h5"/></svg>
<div class="b" style="left:741px;top:123px;width:1145.2px;height:304px;border:5px solid #a349a4"></div>
<div class="b" style="left:50px;top:646px;width:262px;height:64px;border:5px solid #a349a4"></div>
<svg style="left:0;top:0" width="1918" height="913" viewBox="0 0 1918 913" fill="none" stroke="#a349a4" stroke-width="4.8" stroke-linecap="round" stroke-linejoin="round"><path d="M598.4 524.5C597.1 521.5 593.3 512.7 590.9 506.6C588.5 500.5 586.4 493.9 584.1 488C581.8 482.1 579.2 477.2 577.3 471C575.3 464.8 573.6 456.8 572.4 450.6C571.2 444.4 570.5 439.4 570.2 433.7C569.9 428 570.2 422.3 570.6 416.7C571 411.1 571.6 406.1 572.6 400C573.6 393.9 575 386.4 576.9 380.2C578.8 374 581 368.5 583.7 362.7C586.4 356.9 589.5 351 593.3 345.2C597.1 339.4 601.4 333.5 606.5 327.6C611.6 321.8 617.1 315.7 624 310.1C630.9 304.6 639.3 299.1 647.6 294.3C655.9 289.5 665.1 285 673.9 281.2C682.7 277.4 692.3 274.2 700.2 271.6C708.1 269 714.5 267.2 721.3 265.4C728.1 263.6 737.7 261.6 741 260.8"/><path d="M728.3 248.8L741.5 260.5 732.7 281.2"/></svg>
<div class="b" style="left:570px;top:524px;width:795px;height:100px;background:#a349a4"></div>
<div class="t g" style="left:578.4px;top:531px;font-size:28.5px;letter-spacing:0.738px;color:#fff;-webkit-text-stroke:0.9px #fff;">A custom module is added to log the daily exchange rates,</div>
<div class="t g" style="left:815.46px;top:570px;font-size:28.5px;letter-spacing:0.697px;color:#fff;-webkit-text-stroke:0.9px #fff;">which will appear here.</div>
</div></body></html>
